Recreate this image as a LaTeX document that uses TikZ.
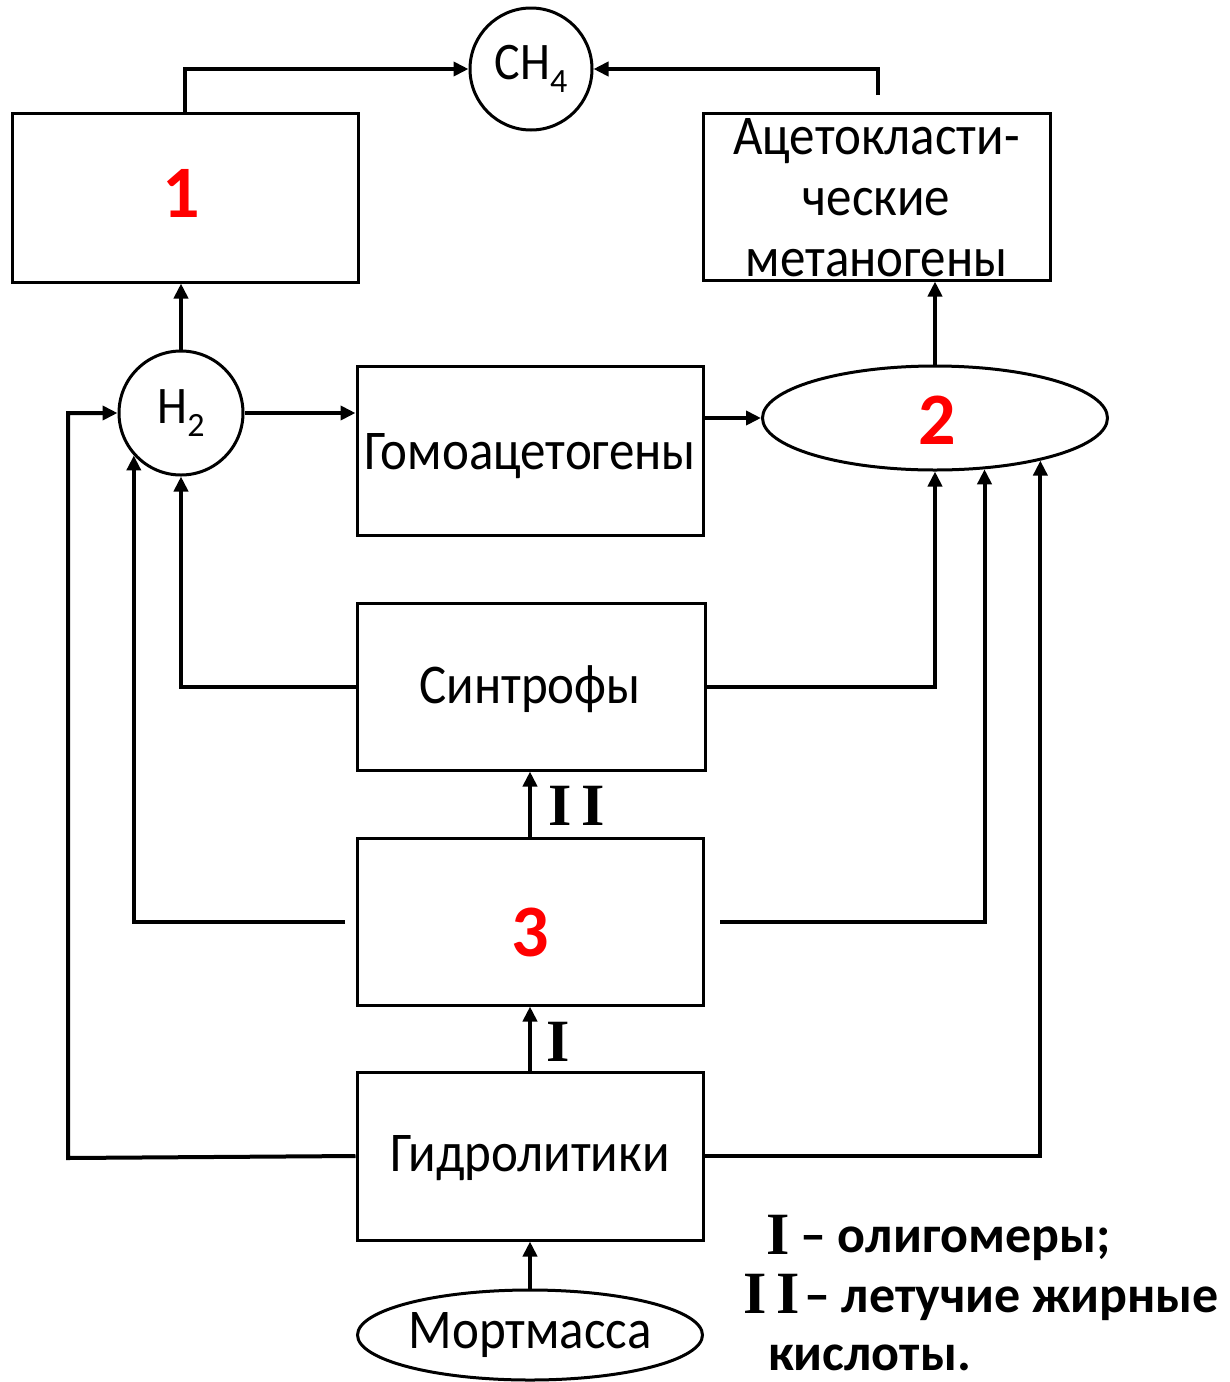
\documentclass[tikz,border=0pt]{standalone}
\usepackage{graphicx}
\usepackage{fontspec}
\setmainfont{Carlito}
\newfontfamily\romfont{Liberation Serif}
\usetikzlibrary{shapes.geometric,arrows.meta}
\newcommand\vst[1]{\scalebox{1}[1.1]{#1}}
\begin{document}
\begin{tikzpicture}[x=1pt,y=-1pt,
  box/.style={draw,line width=3pt,rectangle,inner sep=0pt},
  txt/.style={font=\fontsize{51}{61}\selectfont,align=center,inner sep=0pt},
  circ/.style={draw,line width=3pt,circle,inner sep=0pt,font=\fontsize{48}{58}\selectfont},
  ell/.style={draw,line width=3pt,ellipse,inner sep=0pt,font=\fontsize{51}{58}\selectfont},
  arr/.style={line width=4pt,-{Triangle[length=15pt,width=14pt]}},
  num/.style={text=red,font=\fontsize{74}{74}\selectfont\bfseries},
  roman/.style={font=\fontsize{60}{60}\romfont\bfseries\selectfont,inner sep=0pt},
  leg/.style={font=\fontsize{52}{60}\selectfont\bfseries,anchor=base west,inner sep=0pt}
]
\useasboundingbox[fill=white] (0,0) rectangle (1230,1382);

% nodes
\node[circ,minimum size=122pt] (ch4) at (531,69) {\vst{CH}\raisebox{-13pt}{\fontsize{34}{34}\selectfont 4}};
\node[box,minimum width=346pt,minimum height=169pt] (box1) at (185,197.5) {};
\node[num] (n1) at (181,193) {1};
\node[box,minimum width=347pt,minimum height=167pt] (aceto) at (876.5,196.5) {};
\node[txt] (acetot) at (876.5,198) {\vst{Ацетокласти-}\\\vst{ческие}\\\vst{метаногены}};
\node[circ,minimum size=124pt] (h2) at (181,413) {\vst{H}\raisebox{-13pt}{\fontsize{34}{34}\selectfont 2}};
\node[box,minimum width=346pt,minimum height=169pt] (homo) at (530,450.5) {};
\node[txt] (homot) at (530,456) {\vst{Гомоацетогены}};
\node[ell,minimum width=345pt,minimum height=104pt] (e2) at (935,418) {};
\node[num] (n2) at (937,420) {2};
\node[box,minimum width=348pt,minimum height=167pt] (sint) at (531,686.5) {};
\node[txt] (sintt) at (530,689) {\vst{Синтрофы}};
\node[box,minimum width=346pt,minimum height=167pt] (b3) at (530,921.5) {};
\node[num] (n3) at (530,932) {3};
\node[box,minimum width=346pt,minimum height=168pt] (gidro) at (530,1156) {};
\node[txt] (gidrot) at (530,1158) {\vst{Гидролитики}};
\node[ell,minimum width=345pt,minimum height=90pt] (mort) at (530,1335) {\vst{Мортмасса}};

% labels
\node[roman] (lII) at (577,806) {I\,I};
\node[roman] (lI) at (558,1042) {I};

% legend
\node[roman,anchor=base west] (kI) at (766,1254) {I};
\node[leg] (t1) at (800,1252) {– олигомеры;};
\node[roman,anchor=base west] (kII) at (743,1313) {I\,I};
\node[leg] (t2) at (804,1312) {– летучие жирные};
\node[leg] (t3) at (768,1370) {кислоты.};

% coordinates for free ends
\coordinate (acetop) at (878,95);
\coordinate (l3) at (345,922);
\coordinate (r3) at (720,922);
\coordinate (gl) at (68,1158);

% connectors
\draw[arr] (box1.north) |- (ch4.west);
\draw[arr] (acetop) |- (ch4.east);
\draw[arr] (h2.north) -- (h2.north |- box1.south);
\draw[arr] (h2.east) -- (h2.east -| homo.west);
\draw[arr] (homo.east |- e2.west) -- (e2.west);
\draw[arr] (e2.north) -- (e2.north |- aceto.south);
\draw[arr] (sint.west) -| (h2.south);
\draw[arr] (sint.east) -| (e2.south);
\draw[arr] (b3.north) -- (b3.north |- sint.south);
\draw[arr] (gidro.north) -- (gidro.north |- b3.south);
\draw[arr] (mort.north) -- (mort.north |- gidro.south);
\draw[arr] (l3) -| (h2.222);
\draw[arr] (r3) -| (e2.314);
\draw[arr] (gidro.west) -- (gl) |- (h2.west);
\draw[arr] (gidro.east) -| (e2.338);
\end{tikzpicture}
\end{document}
